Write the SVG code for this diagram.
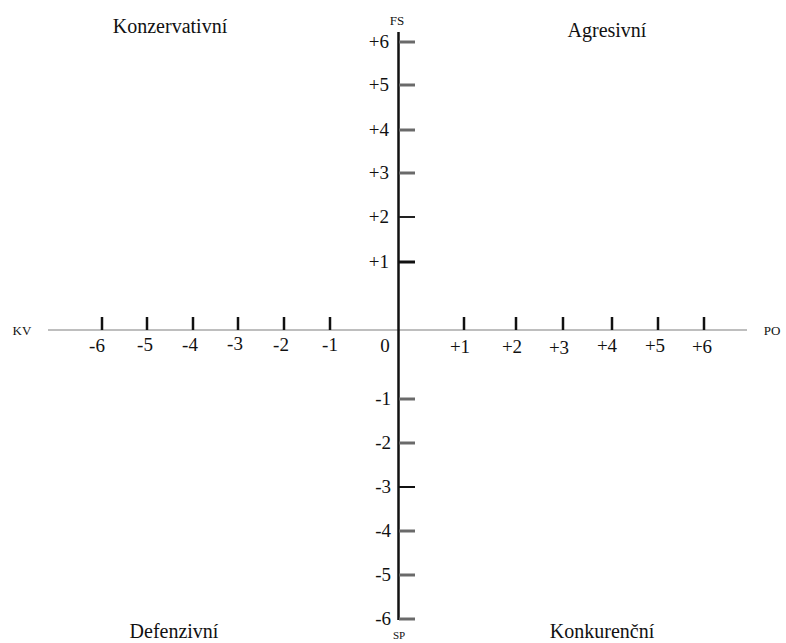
<svg xmlns="http://www.w3.org/2000/svg" width="786" height="643" viewBox="0 0 786 643" font-family="'Liberation Serif', 'DejaVu Serif', serif">
<style>
text{font-family:'Liberation Serif','DejaVu Serif',serif;fill:#111}
.n{font-size:19px}
.q{font-size:20px}
.s{font-size:13px}
.vt{stroke:#6a6a6a;stroke-width:3}
.ht{stroke:#111;stroke-width:2.5}
.r{text-anchor:end}
.m{text-anchor:middle}
</style>
<rect width="786" height="643" fill="#fff"/>
<g id="connectors">
<line x1="48" y1="330" x2="747" y2="330" stroke="#a8a8a8" stroke-width="1.5"/>
<line x1="398.5" y1="32" x2="398.5" y2="620" stroke="#111" stroke-width="2.5"/>
<g class="vt">
<line x1="399" y1="42" x2="415" y2="42"/>
<line x1="399" y1="85" x2="415" y2="85"/>
<line x1="399" y1="130" x2="415" y2="130"/>
<line x1="399" y1="173" x2="415" y2="173"/>
<line x1="399" y1="217" x2="415" y2="217" stroke="#222" stroke-width="2"/>
<line x1="399" y1="262" x2="415" y2="262" stroke="#111"/>
<line x1="399" y1="399" x2="415" y2="399"/>
<line x1="399" y1="443" x2="415" y2="443"/>
<line x1="399" y1="487" x2="415" y2="487" stroke="#111" stroke-width="2"/>
<line x1="399" y1="531" x2="415" y2="531"/>
<line x1="399" y1="575" x2="415" y2="575"/>
<line x1="399" y1="619" x2="415" y2="619"/>
</g>
<g class="ht">
<line x1="102" y1="317" x2="102" y2="330"/>
<line x1="147" y1="317" x2="147" y2="330"/>
<line x1="193" y1="317" x2="193" y2="330"/>
<line x1="238" y1="317" x2="238" y2="330"/>
<line x1="284" y1="317" x2="284" y2="330"/>
<line x1="330" y1="317" x2="330" y2="330"/>
<line x1="464" y1="317" x2="464" y2="330"/>
<line x1="516" y1="317" x2="516" y2="330"/>
<line x1="563" y1="317" x2="563" y2="330"/>
<line x1="612" y1="317" x2="612" y2="330"/>
<line x1="658" y1="317" x2="658" y2="330"/>
<line x1="704" y1="317" x2="704" y2="330"/>
</g>
</g>
<g id="labels-h" class="n">
<text class="m" x="97" y="352">-6</text>
<text class="m" x="145" y="351">-5</text>
<text class="m" x="190" y="351">-4</text>
<text class="m" x="235" y="350">-3</text>
<text class="m" x="281" y="351">-2</text>
<text class="m" x="330" y="351">-1</text>
<text class="m" x="385" y="352">0</text>
<text class="m" x="460" y="353">+1</text>
<text class="m" x="512" y="353">+2</text>
<text class="m" x="559" y="354">+3</text>
<text class="m" x="607" y="352">+4</text>
<text class="m" x="655" y="352">+5</text>
<text class="m" x="702" y="353">+6</text>
</g>
<g id="labels-v" class="n">
<text class="r" x="389" y="48">+6</text>
<text class="r" x="389" y="91">+5</text>
<text class="r" x="389" y="136">+4</text>
<text class="r" x="389" y="179">+3</text>
<text class="r" x="389" y="223">+2</text>
<text class="r" x="389" y="268">+1</text>
<text class="r" x="391" y="405">-1</text>
<text class="r" x="391" y="449">-2</text>
<text class="r" x="391" y="493">-3</text>
<text class="r" x="391" y="537">-4</text>
<text class="r" x="391" y="581">-5</text>
<text class="r" x="391" y="625">-6</text>
</g>
<g id="axis-names" class="s">
<text class="m" x="397" y="25">FS</text>
<text class="m" x="399" y="639" font-size="11">SP</text>
<text class="m" x="22" y="335">KV</text>
<text class="m" x="772" y="335">PO</text>
</g>
<g id="quadrants" class="q">
<text id="konzervativni" class="m" x="170" y="33">Konzervativní</text>
<text id="agresivni" class="m" x="607" y="37">Agresivní</text>
<text id="defenzivni" class="m" x="174" y="638">Defenzivní</text>
<text id="konkurencni" class="m" x="602" y="638">Konkurenční</text>
</g>
</svg>
